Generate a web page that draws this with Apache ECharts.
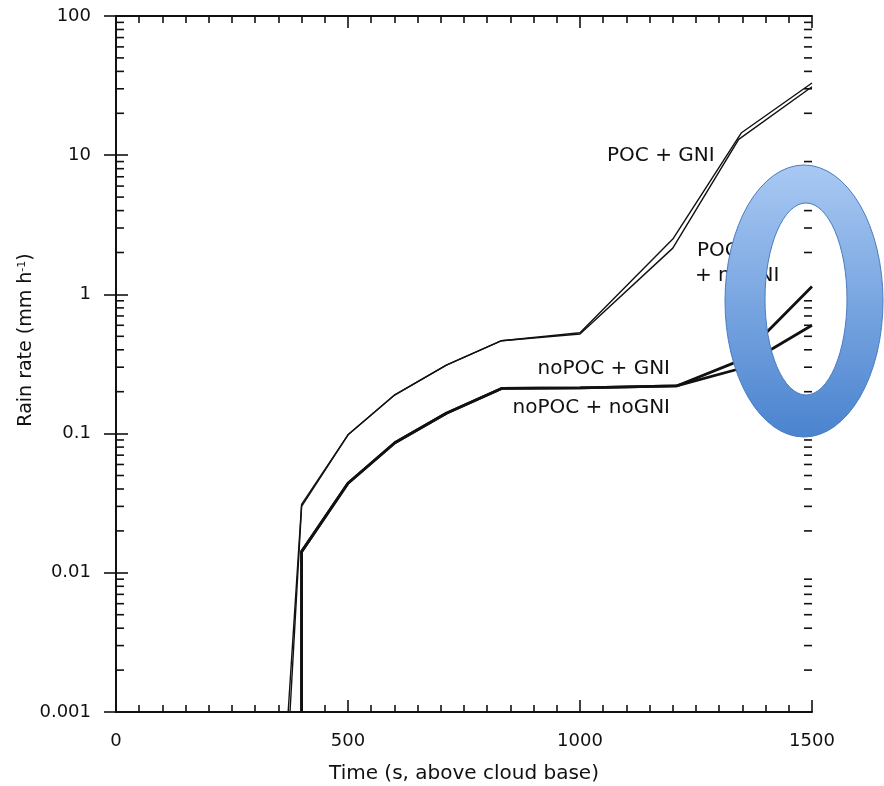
<!DOCTYPE html>
<html lang="en">
<head>
    <meta charset="utf-8">
    <title>Rain rate vs time</title>
    <script src="https://cdn.jsdelivr.net/npm/echarts@6/dist/echarts.min.js"></script>
    <style>
        html, body { margin: 0; padding: 0; background: #fff; }
        #main { width: 884px; height: 786px; }
    </style>
</head>
<body>
    <div id="main"></div>
    <script>
        // -- data (time in s, rain rate in mm/h)
        var pocGni     = [[371, 0.001], [400, 0.031], [500, 0.098], [601, 0.19], [712, 0.31], [831, 0.465], [1000, 0.53], [1200, 2.5], [1348, 14.5], [1500, 33]];
        var pocNoGni   = [[375, 0.001], [400, 0.030], [500, 0.098], [601, 0.19], [712, 0.31], [831, 0.465], [1000, 0.52], [1200, 2.15], [1342, 13], [1500, 31]];
        var noPocGni   = [[400, 0.001], [400, 0.0142], [500, 0.044], [601, 0.086], [712, 0.14], [831, 0.211], [1000, 0.213], [1208, 0.22], [1340, 0.33], [1500, 1.14]];
        var noPocNoGni = [[400, 0.001], [400, 0.0142], [500, 0.044], [601, 0.086], [712, 0.14], [831, 0.211], [1000, 0.213], [1208, 0.22], [1340, 0.29], [1500, 0.6]];

        var xTicks = [0, 500, 1000, 1500];
        var yDecades = [0.001, 0.01, 0.1, 1, 10, 100];
        // minor ticks of the log axis: 2..9 in every decade
        var yMinor = [];
        for (var d = 0; d < yDecades.length - 1; d++) {
            for (var m = 2; m <= 9; m++) {
                yMinor.push([0, +(m * yDecades[d]).toPrecision(3)]);
            }
        }

        var FONT = 'DejaVu Sans';
        var INK = '#111';
        var TXT = '#111';

        var chart = echarts.init(document.getElementById('main'));

        var baseX = {
            type: 'value',
            min: xTicks[0],
            max: xTicks[xTicks.length - 1],
            interval: 500,
            axisLine: { lineStyle: { color: INK, width: 2 } },
            axisTick: { inside: true, length: 12, lineStyle: { color: INK, width: 1.6 } },
            minorTick: { show: true, splitNumber: 10, length: 7, lineStyle: { color: INK, width: 1.6 } },
            splitLine: { show: false },
            minorSplitLine: { show: false }
        };
        var baseY = {
            type: 'log',
            logBase: 10,
            min: yDecades[0],
            max: yDecades[yDecades.length - 1],
            axisLine: { lineStyle: { color: INK, width: 2 } },
            axisTick: { inside: true, length: 12, lineStyle: { color: INK, width: 1.6 } },
            splitLine: { show: false }
        };

        function lineSeries(name, data, width) {
            return {
                name: name,
                type: 'line',
                data: data,
                symbol: 'none',
                clip: true,
                lineStyle: { color: INK, width: width },
                z: 3
            };
        }

        // ellipse ring overlay (outer, inner)
        var ringOuter = { cx: 804, cy: 301, rx: 79, ry: 136 };
        var ringInner = { cx: 806, cy: 299, rx: 41, ry: 96 };
        function ellipsePath(e, sweep) {
            return 'M' + (e.cx - e.rx) + ',' + e.cy +
                ' A' + e.rx + ',' + e.ry + ' 0 1 ' + sweep + ' ' + (e.cx + e.rx) + ',' + e.cy +
                ' A' + e.rx + ',' + e.ry + ' 0 1 ' + sweep + ' ' + (e.cx - e.rx) + ',' + e.cy + ' Z';
        }

        var option = {
            backgroundColor: '#fff',
            animation: false,
            grid: { left: 116, right: 72, top: 16, bottom: 74, outerBoundsMode: 'none' },
            xAxis: [
                Object.assign({}, baseX, {
                    position: 'bottom',
                    name: 'Time (s, above cloud base)',
                    nameLocation: 'middle',
                    nameGap: 52,
                    nameMoveOverlap: false,
                    nameTextStyle: { fontFamily: FONT, fontSize: 20, color: TXT },
                    axisLabel: {
                        fontFamily: FONT, fontSize: 18, color: TXT, margin: 20,
                        formatter: function (v) { return String(v); }
                    }
                }),
                Object.assign({}, baseX, {
                    position: 'top',
                    axisLabel: { show: false }
                })
            ],
            yAxis: [
                Object.assign({}, baseY, {
                    position: 'left',
                    name: 'Rain rate (mm h{sup|-1})',
                    nameLocation: 'middle',
                    nameGap: 80,
                    nameMoveOverlap: false,
                    nameTextStyle: {
                        fontFamily: FONT, fontSize: 19, color: TXT,
                        padding: [0, 0, 0, 48],
                        rich: { sup: { fontFamily: FONT, fontSize: 11, color: TXT, verticalAlign: 'top', padding: [0, 0, 8, 0] } }
                    },
                    axisLabel: {
                        fontFamily: FONT, fontSize: 18, color: TXT, margin: 25,
                        formatter: function (v) { return String(+v.toPrecision(3)); }
                    }
                }),
                Object.assign({}, baseY, {
                    position: 'right',
                    axisLabel: { show: false }
                })
            ],
            graphic: [
                { type: 'text', left: 607, top: 146, style: { text: 'POC + GNI', font: '20px ' + FONT, fill: TXT } },
                { type: 'text', left: 697, top: 241, style: { text: 'POC', font: '20px ' + FONT, fill: TXT } },
                { type: 'text', left: 695, top: 266, style: { text: '+ noGNI', font: '20px ' + FONT, fill: TXT } },
                { type: 'text', right: 884 - 670, top: 359, style: { text: 'noPOC + GNI', font: '20px ' + FONT, fill: TXT } },
                { type: 'text', right: 884 - 670, top: 398, style: { text: 'noPOC + noGNI', font: '20px ' + FONT, fill: TXT } }
            ],
            series: [
                lineSeries('POC + GNI', pocGni, 1.4),
                lineSeries('POC + noGNI', pocNoGni, 1.4),
                lineSeries('noPOC + GNI', noPocGni, 2.8),
                lineSeries('noPOC + noGNI', noPocNoGni, 2.8),
                {
                    // minor ticks of the log axes, left and right
                    type: 'custom',
                    silent: true,
                    data: yMinor,
                    z: 4,
                    renderItem: function (params, api) {
                        var y = api.coord([0, api.value(1)])[1];
                        var cs = params.coordSys;
                        var st = { stroke: INK, lineWidth: 1.6 };
                        return {
                            type: 'group',
                            children: [
                                { type: 'line', shape: { x1: cs.x, y1: y, x2: cs.x + 8, y2: y }, style: st },
                                { type: 'line', shape: { x1: cs.x + cs.width, y1: y, x2: cs.x + cs.width - 8, y2: y }, style: st }
                            ]
                        };
                    }
                },
                {
                    // the blue ring drawn over the figure
                    type: 'custom',
                    coordinateSystem: 'none',
                    silent: true,
                    data: [0],
                    z: 20,
                    renderItem: function () {
                        return {
                            type: 'path',
                            shape: { pathData: ellipsePath(ringOuter, 1) + ' ' + ellipsePath(ringInner, 0) },
                            style: {
                                fill: {
                                    type: 'linear', x: 0, y: 0, x2: 0, y2: 1,
                                    colorStops: [{ offset: 0, color: '#a9c9f3' }, { offset: 1, color: '#4a83cf' }]
                                },
                                stroke: '#4a7cc0',
                                lineWidth: 1
                            }
                        };
                    }
                }
            ]
        };

        chart.setOption(option, true);
    </script>
</body>
</html>
